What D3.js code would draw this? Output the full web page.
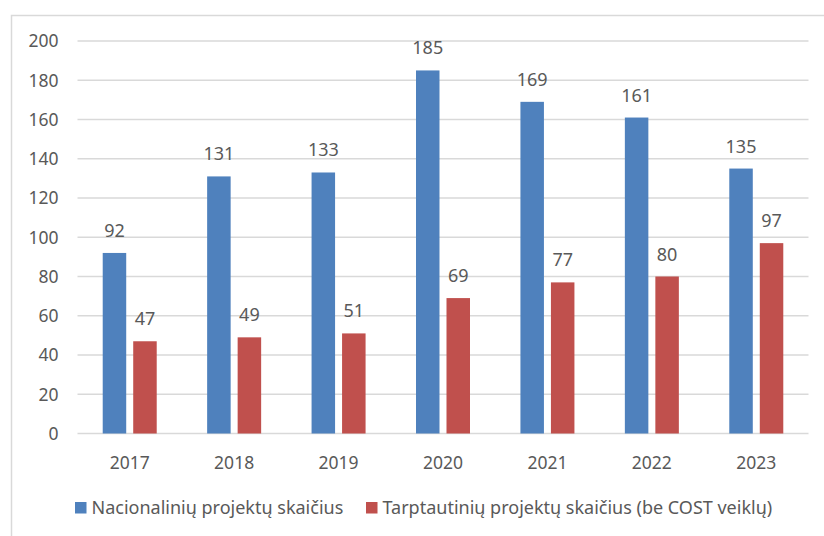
<!DOCTYPE html>
<html>
<head>
<meta charset="utf-8">
<script src="https://cdn.jsdelivr.net/npm/d3@7"></script>
<style>
  body { margin: 0; background: #fff; }
  text { font-family: "Noto Sans", sans-serif; fill: #595959; }
</style>
</head>
<body>
<div id="chart"></div>
<script>

// data

var years = ["2017", "2018", "2019", "2020", "2021", "2022", "2023"];
var nacionaliniai = [92, 131, 133, 185, 169, 161, 135];
var tarptautiniai = [47, 49, 51, 69, 77, 80, 97];
var seriesNames = ["Nacionalinių projektų skaičius", "Tarptautinių projektų skaičius (be COST veiklų)"];
var yTicks = [0, 20, 40, 60, 80, 100, 120, 140, 160, 180, 200];

var colors = ["#4f81bd", "#c0504d"];

var width = 824,
    height = 536,
    marginTop = 41,
    marginLeft = 77.5,
    marginRight = 15.5,
    marginBottom = 102.5;

var widthAdj = width - marginLeft - marginRight,
    heightAdj = height - marginTop - marginBottom;

var svg = d3.select("#chart")
  .append("svg")
    .attr("width", width)
    .attr("height", height);

// chart frame

svg.append("rect")
  .attr("x", 11.5)
  .attr("y", 15.5)
  .attr("width", 830)
  .attr("height", 540)
  .attr("fill", "none")
  .attr("stroke", "#d9d9d9")
  .attr("stroke-width", 1.5);

var g = svg.append("g")
  .attr("transform", "translate(" + marginLeft + "," + marginTop + ")");

// scales

var xScale = d3.scaleBand().domain(years).range([0, widthAdj]);
var yScale = d3.scaleLinear().domain([0, 200]).range([heightAdj, 0]);

var barW = 23.5, barGap = 7;
var xSub = d3.scaleOrdinal().domain([0, 1])
  .range([-(barW + barGap / 2), barGap / 2]);

// gridlines

g.selectAll(".grid")
  .data(yTicks)
  .enter()
  .append("line")
    .attr("x1", 0)
    .attr("x2", widthAdj)
    .attr("y1", function(d) { return yScale(d); })
    .attr("y2", function(d) { return yScale(d); })
    .attr("stroke", "#d9d9d9")
    .attr("stroke-width", 1.5);

// y axis labels

g.selectAll(".ytick")
  .data(yTicks)
  .enter()
  .append("text")
    .attr("x", -19)
    .attr("y", function(d) { return yScale(d); })
    .attr("dy", "0.36em")
    .attr("text-anchor", "end")
    .style("font-size", "17.5px")
    .text(function(d) { return d; });

// x axis labels

g.selectAll(".xtick")
  .data(years)
  .enter()
  .append("text")
    .attr("x", function(d) { return xScale(d) + xScale.bandwidth() / 2; })
    .attr("y", heightAdj + 35)
    .attr("text-anchor", "middle")
    .style("font-size", "17.5px")
    .text(function(d) { return d; });

// bars and labels

[nacionaliniai, tarptautiniai].forEach(function(values, s) {

  var rows = years.map(function(y, i) { return { year: y, value: values[i] }; });

  g.selectAll(".bar" + s)
    .data(rows)
    .enter()
    .append("rect")
      .attr("x", function(d) { return xScale(d.year) + xScale.bandwidth() / 2 + xSub(s); })
      .attr("y", function(d) { return yScale(d.value); })
      .attr("width", barW)
      .attr("height", function(d) { return heightAdj - yScale(d.value); })
      .attr("fill", colors[s]);

  g.selectAll(".label" + s)
    .data(rows)
    .enter()
    .append("text")
      .attr("x", function(d) { return xScale(d.year) + xScale.bandwidth() / 2 + xSub(s) + barW / 2; })
      .attr("y", function(d) { return yScale(d.value) - 16; })
      .attr("text-anchor", "middle")
      .style("font-size", "18px")
      .text(function(d) { return d.value; });
});

// legend

var legendX = [75, 366];

var legend = svg.selectAll(".legend")
  .data(seriesNames)
  .enter()
  .append("g")
    .attr("transform", function(d, i) { return "translate(" + legendX[i] + ",502)"; });

legend.append("rect")
  .attr("width", 11.5)
  .attr("height", 11.5)
  .attr("fill", function(d, i) { return colors[i]; });

legend.append("text")
  .attr("x", 16.5)
  .attr("y", 6)
  .attr("dy", "0.36em")
  .style("font-size", "18px")
  .text(function(d) { return d; });

</script>
</body>
</html>
